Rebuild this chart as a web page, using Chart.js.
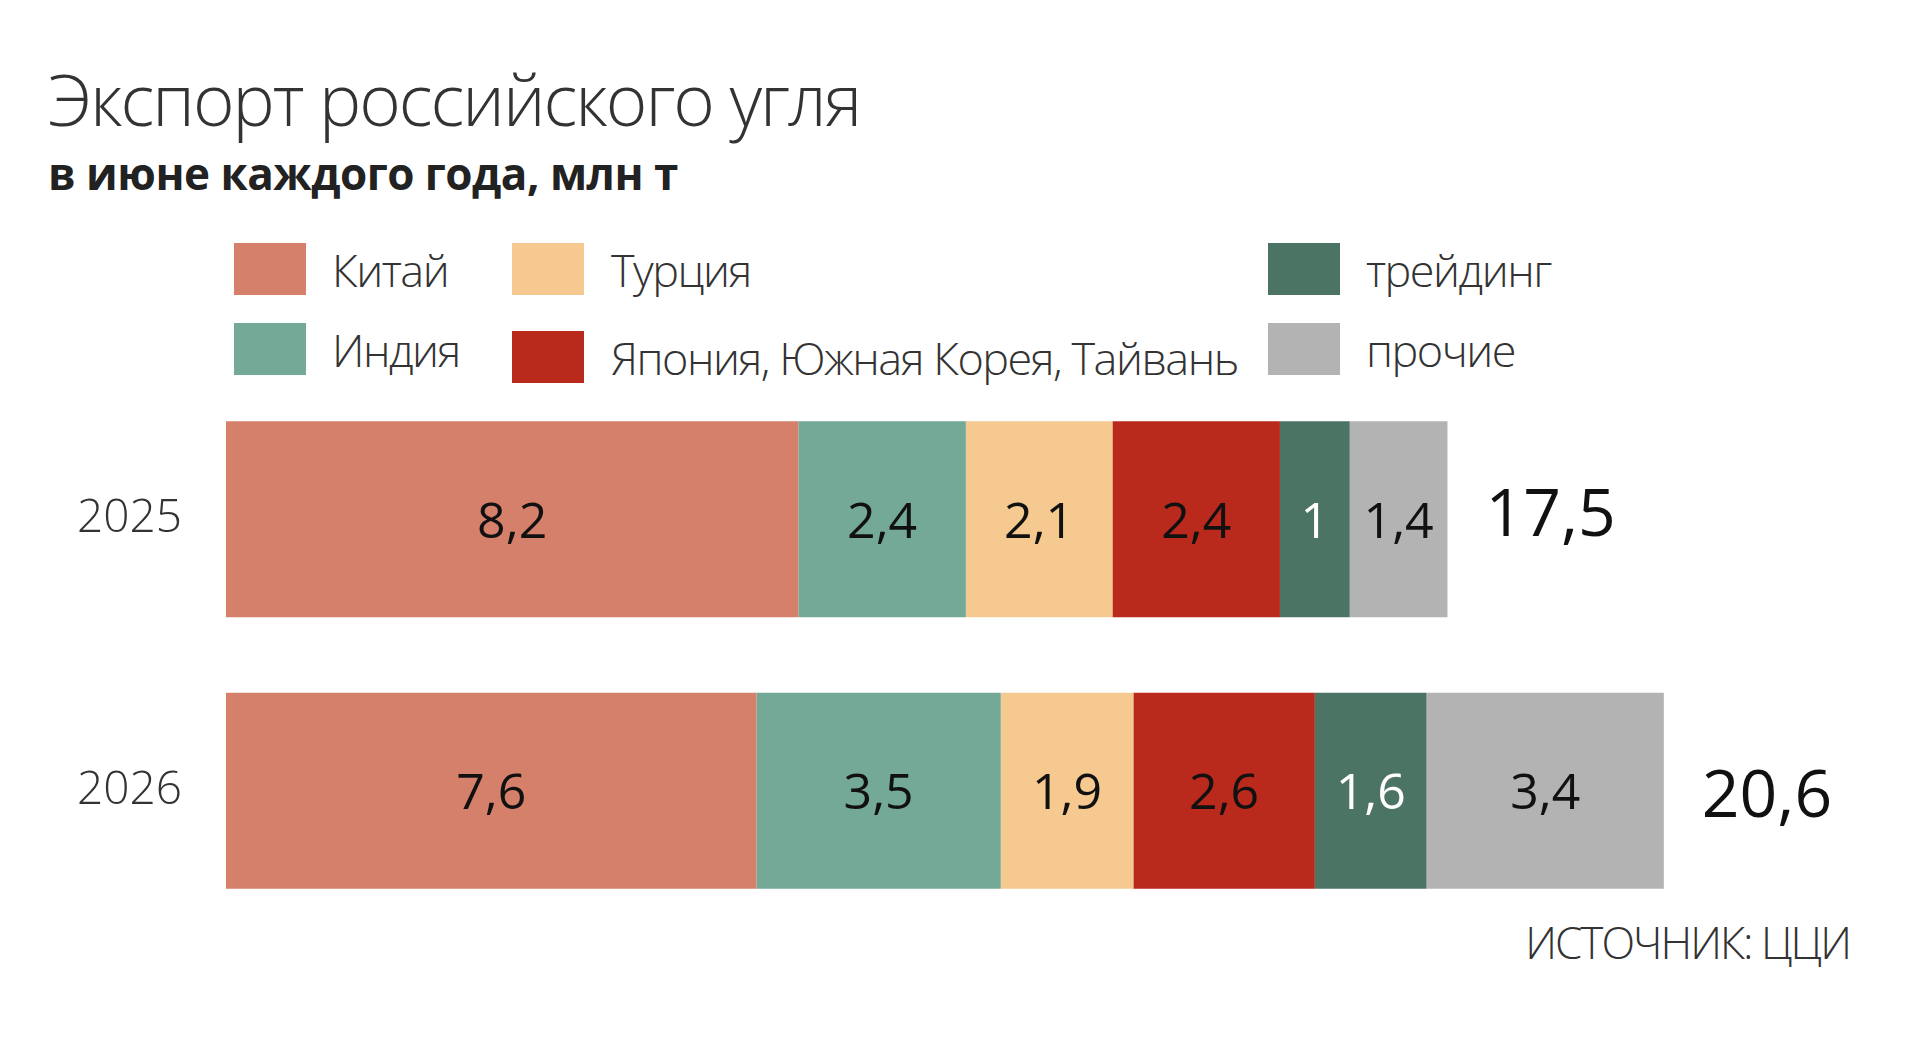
<!DOCTYPE html>
<html><head><meta charset="utf-8">
<script src="https://cdn.jsdelivr.net/npm/chart.js@4"></script>
<style>
body{margin:0;background:#fff;font-family:"Open Sans",sans-serif;color:#222;width:1920px;height:1042px;position:relative;overflow:hidden}
.t{position:absolute;white-space:nowrap}
#title{left:48px;top:50px;font-size:71px;font-weight:300;letter-spacing:-2px;color:#333}
#sub{left:48px;top:143px;font-size:44px;font-weight:700;letter-spacing:-0.5px;color:#222}
.sw{position:absolute;width:72px;height:52px}
.lg{position:absolute;font-size:45px;font-weight:300;letter-spacing:-1.5px;color:#333}
#src{right:70px;top:912px;font-size:44px;font-weight:300;letter-spacing:-2px;color:#333}
#wrap{position:absolute;left:0;top:320px;width:1920px;height:670px}
</style></head><body>
<div class="t" id="title">Экспорт российского угля</div>
<div class="t" id="sub">в июне каждого года, млн т</div>
<div id="legend"></div>
<div class="t" id="src">ИСТОЧНИК: ЦЦИ</div>
<div id="wrap"><canvas id="c"></canvas></div>
<script>
const years = ['2025', '2026'];
const seriesNames = ['Китай', 'Индия', 'Турция', 'Япония, Южная Корея, Тайвань', 'трейдинг', 'прочие'];
const china = [8.2, 7.6];
const india = [2.4, 3.5];
const turkey = [2.1, 1.9];
const japan = [2.4, 2.6];
const trading = [1, 1.6];
const other = [1.4, 3.4];
const totals = [17.5, 20.6];
const colors = ['#d4806a', '#74a998', '#f5c98f', '#b9291c', '#4c7465', '#b3b3b3'];
const labelColors = ['#111', '#111', '#111', '#111', '#fff', '#111'];

// legend placement (swatch x, text x, row)
const legendPos = [[234, 332, 0], [234, 332, 1], [512, 611, 0], [512, 611, 1], [1268, 1366, 0], [1268, 1366, 1]];
const legendEl = document.getElementById('legend');
seriesNames.forEach((n, i) => {
    const [sx, tx, r] = legendPos[i];
    const y = r ? 323 : 243;
    legendEl.insertAdjacentHTML('beforeend',
        `<div class="sw" style="left:${sx}px;top:${y + (r && i === 3 ? 8 : 0)}px;background:${colors[i]}"></div>` +
        `<div class="lg" style="left:${tx}px;top:${y - 4 + (i === 3 ? 8 : 0)}px">${n}</div>`);
});

const values = [china, india, turkey, japan, trading, other];
const fmt = v => String(v).replace('.', ',');

const labelsPlugin = {
    id: 'segLabels',
    afterDatasetsDraw(chart) {
        const ctx = chart.ctx;
        ctx.save();
        ctx.textBaseline = 'middle';
        chart.data.datasets.forEach((ds, di) => {
            chart.getDatasetMeta(di).data.forEach((bar, i) => {
                ctx.font = '400 50px "Open Sans"';
                ctx.fillStyle = labelColors[di];
                ctx.textAlign = 'center';
                ctx.fillText(fmt(ds.data[i]), (bar.x + bar.base) / 2, bar.y + 4);
            });
        });
        const last = chart.getDatasetMeta(chart.data.datasets.length - 1).data;
        last.forEach((bar, i) => {
            ctx.font = '400 66px "Open Sans"';
            ctx.fillStyle = '#111';
            ctx.textAlign = 'left';
            ctx.fillText(fmt(totals[i]), bar.x + 38, bar.y + (i ? 8 : -2));
        });
        ctx.restore();
    }
};

new Chart(document.getElementById('c'), {
    type: 'bar',
    data: {
        labels: years,
        datasets: seriesNames.map((n, i) => ({
            label: n, data: values[i], backgroundColor: colors[i],
            barPercentage: 0.722, categoryPercentage: 1
        }))
    },
    options: {
        indexAxis: 'y',
        responsive: true,
        maintainAspectRatio: false,
        animation: false,
        layout: { padding: 0 },
        scales: {
            x: { stacked: true, min: 0, max: 24.27, display: false },
            y: {
                stacked: true,
                grid: { display: false },
                border: { display: false },
                ticks: { color: '#333', padding: 36, font: { family: 'Open Sans', size: 46, weight: 300 } },
                afterFit: s => { s.width = 226; }
            }
        },
        plugins: { legend: { display: false }, tooltip: { enabled: false } }
    },
    plugins: [labelsPlugin]
});
</script>
</body></html>
